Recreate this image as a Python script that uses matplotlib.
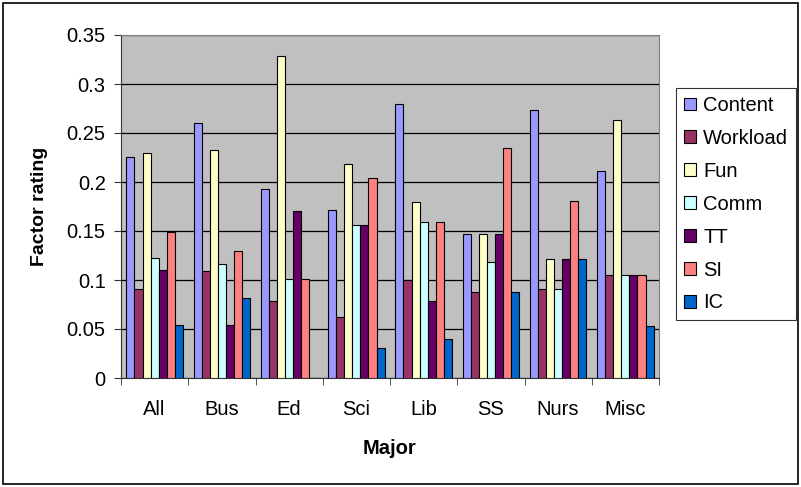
import numpy as np
import matplotlib.pyplot as plt
from matplotlib.patches import Rectangle

# === Daten ===
majors = ['All', 'Bus', 'Ed', 'Sci', 'Lib', 'SS', 'Nurs', 'Misc']
series = ['Content', 'Workload', 'Fun', 'Comm', 'TT', 'SI', 'IC']

content = [0.226, 0.260, 0.193, 0.171, 0.280, 0.147, 0.273, 0.211]
workload = [0.091, 0.109, 0.079, 0.062, 0.100, 0.088, 0.091, 0.105]
fun = [0.230, 0.233, 0.329, 0.218, 0.180, 0.147, 0.121, 0.263]
comm = [0.122, 0.116, 0.101, 0.156, 0.159, 0.118, 0.091, 0.105]
tt = [0.110, 0.054, 0.170, 0.156, 0.079, 0.147, 0.121, 0.105]
si = [0.149, 0.130, 0.101, 0.204, 0.159, 0.235, 0.181, 0.105]
ic = [0.054, 0.082, 0.0, 0.031, 0.040, 0.088, 0.121, 0.053]

values = [content, workload, fun, comm, tt, si, ic]
colors = ['#9999FF', '#993366', '#FFFFCC', '#CCFFFF', '#660066', '#FF8080', '#0066CC']
yticks = [0, 0.05, 0.1, 0.15, 0.2, 0.25, 0.3, 0.35]
ytick_labels = ['0', '0.05', '0.1', '0.15', '0.2', '0.25', '0.3', '0.35']

plt.rcParams['font.family'] = ['Liberation Sans', 'DejaVu Sans']
fs = 14.5

fig = plt.figure(figsize=(8.01, 4.87), dpi=100)
ax = fig.add_axes([121 / 801, 1 - 378 / 487, (659 - 121) / 801, (378 - 35) / 487])
ax.set_facecolor('#C0C0C0')

# Rahmen um die ganze Grafik
fig.patches.append(Rectangle((3 / 801, 3 / 487), 795 / 801, 481 / 487,
                             transform=fig.transFigure, fill=False,
                             edgecolor='black', linewidth=1.2))

x = np.arange(len(majors))
w = 0.12
handles = []
for i, (name, vals, c) in enumerate(zip(series, values, colors)):
    b = ax.bar(x + (i - 3) * w, vals, width=w, color=c, edgecolor='black',
               linewidth=0.8, label=name, zorder=3)
    handles.append(b)

ax.set_xlim(-0.5, len(majors) - 0.5)
ax.set_ylim(0, 0.35)
ax.set_yticks(yticks)
ax.set_yticklabels(ytick_labels)
ax.yaxis.grid(True, color='black', linewidth=0.9, zorder=0)
ax.set_axisbelow(True)

ax.set_xticks(x)
ax.set_xticklabels(majors)
ax.set_xticks(np.arange(-0.5, len(majors)), minor=True)
ax.tick_params(axis='x', which='major', length=0, labelsize=fs, pad=16)
ax.tick_params(axis='x', which='minor', length=5, direction='out', color='#333333')
ax.tick_params(axis='y', length=5, direction='out', labelsize=fs, pad=6, color='#333333')

for s in ['top', 'right']:
    ax.spines[s].set_color('#808080')
for s in ['left', 'bottom']:
    ax.spines[s].set_color('#333333')

ax.set_xlabel('Major', fontsize=fs, fontweight='bold', va='center')
ax.xaxis.set_label_coords(0.5, -(449 - 378) / 343)
ax.set_ylabel('Factor rating', fontsize=14, fontweight='bold', va='center')
ax.yaxis.set_label_coords(-(121 - 39) / 538, 0.5)

leg = fig.legend(handles=handles, labels=series, loc='upper left',
                 bbox_to_anchor=(676 / 801, 1 - 88 / 487), fontsize=fs,
                 frameon=True, fancybox=False, handlelength=0.6, handleheight=0.6,
                 handletextpad=0.35, labelspacing=0.69, borderpad=0.4,
                 borderaxespad=0)
leg.get_frame().set_edgecolor('black')
leg.get_frame().set_linewidth(0.8)

fig.savefig('out.png', dpi=100)
